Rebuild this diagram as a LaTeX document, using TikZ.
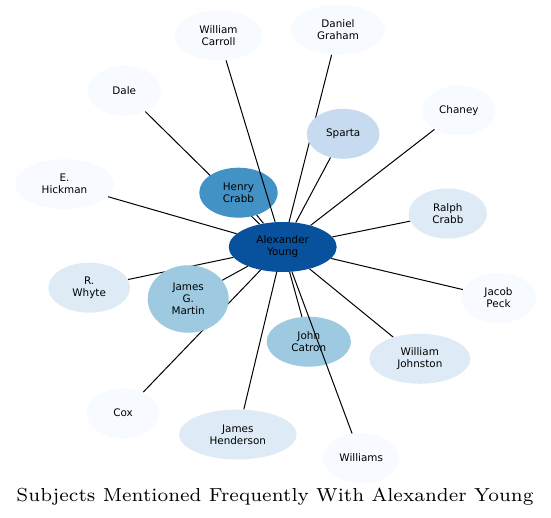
\documentclass[tikz,border=0pt]{standalone}
\usepackage{fontspec}
\usepackage{tikz}
\usetikzlibrary{shapes.geometric,backgrounds}
\newfontfamily\labelfont{DejaVu Sans}
\newfontfamily\titlefont{lmroman7-regular}[Extension=.otf]
\definecolor{hubblue}{HTML}{08519C}
\definecolor{strongblue}{HTML}{4292C6}
\definecolor{midblue}{HTML}{9ECAE1}
\definecolor{softblue}{HTML}{C6DBEF}
\definecolor{paleblue}{HTML}{DEEBF7}
\definecolor{faintblue}{HTML}{F7FBFF}
\tikzset{
  subj/.style={ellipse,draw=none,inner sep=0pt,minimum height=50pt,align=center,text=black,font=\labelfont\fontsize{10.4}{12}\selectfont},
  hub/.style={subj,fill=hubblue},
  strong/.style={subj,fill=strongblue},
  mid/.style={subj,fill=midblue},
  soft/.style={subj,fill=softblue},
  pale/.style={subj,fill=paleblue},
  faint/.style={subj,fill=faintblue},
  link/.style={draw=black,line width=1pt}
}

\begin{document}
\begin{tikzpicture}[x=1pt,y=-1pt]
  \useasboundingbox (0,0) rectangle (551,518);

  \node[hub,minimum width=108pt] (ay) at (282.7,247) {Alexander\\Young};
  \node[strong,minimum width=78.5pt] (hc) at (238.5,192.7) {Henry\\Crabb};
  \node[mid,minimum width=81pt,minimum height=67.5pt] (jgm) at (188.2,299) {James\\G.\\Martin};
  \node[mid,minimum width=84.3pt] (jc) at (308.8,341.7) {John\\Catron};
  \node[soft,minimum width=72.7pt] (sp) at (343.2,133.8) {Sparta};
  \node[pale,minimum width=78.3pt] (rc) at (447.8,213.5) {Ralph\\Crabb};
  \node[pale,minimum width=81.7pt] (rw) at (89.2,287.7) {R.\\Whyte};
  \node[pale,minimum width=101pt] (wj) at (419.8,358.8) {William\\Johnston};
  \node[pale,minimum width=117.7pt] (jh) at (237.8,434.5) {James\\Henderson};
  \node[faint,minimum width=88pt] (wc) at (218.5,35.5) {William\\Carroll};
  \node[faint,minimum width=94pt] (dg) at (338,29.7) {Daniel\\Graham};
  \node[faint,minimum width=73.5pt] (dale) at (124.2,90.8) {Dale};
  \node[faint,minimum width=73pt] (ch) at (458.9,110.5) {Chaney};
  \node[faint,minimum width=99pt] (eh) at (64.5,184.2) {E.\\Hickman};
  \node[faint,minimum width=75pt] (jp) at (498.5,298) {Jacob\\Peck};
  \node[faint,minimum width=72.7pt] (cox) at (123,413.2) {Cox};
  \node[faint,minimum width=76.3pt] (wi) at (361.2,458) {Williams};

  % most links sit under the ellipses
  \begin{pgfonlayer}{background}
    \foreach \n in {hc,jgm,jc,sp,rc,rw,wj,jh,dg,dale,ch,eh,jp,cox}
      \draw[link] (ay) -- (\n);
  \end{pgfonlayer}
  \draw[link] (ay) -- (wc);
  \draw[link] (ay) -- (wi);

  \node[anchor=base,font=\titlefont\fontsize{18.85}{22}\selectfont] (title) at (275,501)
    {Subjects Mentioned Frequently With Alexander Young};
\end{tikzpicture}
\end{document}
